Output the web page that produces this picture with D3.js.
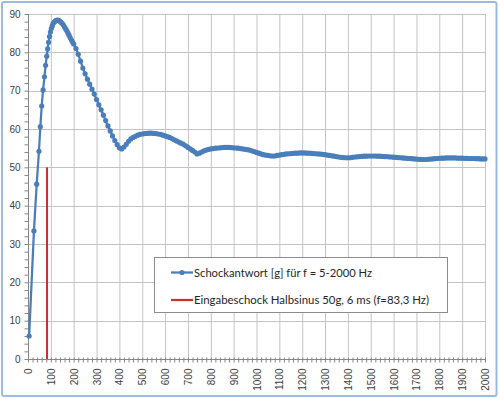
<!DOCTYPE html>
<html>
<head>
<meta charset="utf-8">
<script src="https://cdn.jsdelivr.net/npm/d3@7"></script>
<style>
  body { margin: 0; background: #fff; }
  svg { display: block; font-family: Lato, "Open Sans", sans-serif; }
</style>
</head>
<body>
<script>
// Schockantwort [g] over frequency [Hz]
const shockResponse = [
  [5, 6.0], [26, 33.4], [38, 45.6], [48, 54.2], [54, 60.6], [60, 66.0], [66, 70.2],
  [72, 73.6], [77, 76.6], [82, 79.0], [86, 80.9], [90, 82.6], [94, 84.1], [98, 85.3],
  [102, 86.2], [106, 86.9], [110, 87.5], [115, 87.9], [120, 88.2], [125, 88.35],
  [130, 88.4], [135, 88.3], [140, 88.1], [145, 87.8], [150, 87.5], [155, 87.1],
  [160, 86.6], [165, 86.1], [170, 85.6], [175, 85.0], [180, 84.4], [185, 83.8],
  [190, 83.2], [195, 82.7], [200, 82.2], [210, 81.0], [220, 79.5], [230, 77.7],
  [240, 75.9], [250, 74.4], [260, 73.0], [270, 71.7], [280, 70.4], [290, 69.1],
  [300, 67.7], [310, 66.3], [320, 65.0], [330, 63.6], [340, 62.2], [350, 60.8],
  [360, 59.5], [370, 58.2], [380, 57.0], [390, 55.9], [400, 55.1], [410, 54.8],
  [420, 55.3], [430, 56.0], [440, 56.8], [450, 57.4], [460, 57.8], [470, 58.1],
  [480, 58.4], [490, 58.6], [500, 58.7], [510, 58.8], [520, 58.85], [530, 58.9],
  [540, 58.9], [550, 58.85], [560, 58.8], [570, 58.7], [580, 58.6], [590, 58.4],
  [600, 58.2], [610, 58.0], [620, 57.8], [630, 57.5], [640, 57.2], [650, 56.9],
  [660, 56.6], [670, 56.3], [680, 56.0], [690, 55.6], [700, 55.2], [710, 54.8],
  [720, 54.4], [730, 54.0], [740, 53.5], [750, 53.7], [760, 54.0], [770, 54.3],
  [780, 54.5], [790, 54.7], [800, 54.8], [810, 54.9], [820, 55.0], [830, 55.05],
  [840, 55.1], [850, 55.15], [860, 55.2], [870, 55.2], [880, 55.2], [890, 55.15],
  [900, 55.1], [910, 55.05], [920, 55.0], [930, 54.9], [940, 54.8], [950, 54.7],
  [960, 54.6], [970, 54.5], [980, 54.3], [990, 54.1], [1000, 53.9], [1010, 53.7],
  [1020, 53.5], [1030, 53.3], [1040, 53.2], [1050, 53.1], [1060, 53.0], [1070, 52.95],
  [1080, 52.95], [1090, 53.1], [1100, 53.2], [1110, 53.3], [1120, 53.4], [1130, 53.5],
  [1140, 53.55], [1150, 53.6], [1160, 53.65], [1170, 53.7], [1180, 53.7], [1190, 53.75],
  [1200, 53.75], [1210, 53.75], [1220, 53.7], [1230, 53.7], [1240, 53.65], [1250, 53.6],
  [1260, 53.55], [1270, 53.5], [1280, 53.45], [1290, 53.4], [1300, 53.3], [1310, 53.2],
  [1320, 53.1], [1330, 53.0], [1340, 52.9], [1350, 52.8], [1360, 52.7], [1370, 52.6],
  [1380, 52.55], [1390, 52.5], [1400, 52.5], [1410, 52.5], [1420, 52.6], [1430, 52.7],
  [1440, 52.75], [1450, 52.8], [1460, 52.85], [1470, 52.9], [1480, 52.9], [1490, 52.95],
  [1500, 52.95], [1510, 52.95], [1520, 52.95], [1530, 52.9], [1540, 52.9], [1550, 52.85],
  [1560, 52.8], [1570, 52.8], [1580, 52.75], [1590, 52.7], [1600, 52.65], [1610, 52.6],
  [1620, 52.55], [1630, 52.5], [1640, 52.45], [1650, 52.4], [1660, 52.35], [1670, 52.3],
  [1680, 52.25], [1690, 52.2], [1700, 52.15], [1710, 52.1], [1720, 52.1], [1730, 52.05],
  [1740, 52.05], [1750, 52.1], [1760, 52.15], [1770, 52.2], [1780, 52.25], [1790, 52.3],
  [1800, 52.35], [1810, 52.4], [1820, 52.4], [1830, 52.45], [1840, 52.45], [1850, 52.45],
  [1860, 52.45], [1870, 52.45], [1880, 52.4], [1890, 52.4], [1900, 52.4], [1910, 52.35],
  [1920, 52.35], [1930, 52.3], [1940, 52.3], [1950, 52.3], [1960, 52.25], [1970, 52.25],
  [1980, 52.2], [1990, 52.2], [2000, 52.2]
];

// Eingabeschock: half sine 50 g at 83,3 Hz
const inputPulse = [[83.3, 0], [83.3, 50]];

const xTickValues = [0, 100, 200, 300, 400, 500, 600, 700, 800, 900, 1000,
  1100, 1200, 1300, 1400, 1500, 1600, 1700, 1800, 1900, 2000];
const yTickValues = [0, 10, 20, 30, 40, 50, 60, 70, 80, 90];

const seriesNames = [
  "Schockantwort [g] für f = 5-2000 Hz",
  "Eingabeschock Halbsinus 50g, 6 ms (f=83,3 Hz)"
];

const svgWidth = 500;
const svgHeight = 399;
const blue = "#4a7ebb";
const red = "#c9302c";

const svg = d3.select("body")
  .append("svg")
  .attr("width", svgWidth)
  .attr("height", svgHeight);

// outer chart border
svg.append("rect")
  .attr("x", 2)
  .attr("y", 2)
  .attr("width", 494.5)
  .attr("height", 394)
  .attr("rx", 2)
  .style("fill", "#fff")
  .style("stroke", "#9dbbe1")
  .style("stroke-width", 2);

const xScale = d3.scaleLinear().domain([0, 2000]).range([28, 485]);
const yScale = d3.scaleLinear().domain([0, 90]).range([359, 14]);

// gridlines
svg.append("g")
  .selectAll("line")
  .data(xTickValues.slice(1))
  .enter().append("line")
  .attr("x1", d => xScale(d) + 0.5).attr("x2", d => xScale(d) + 0.5)
  .attr("y1", yScale(90)).attr("y2", yScale(0))
  .style("stroke", "#c4c4c4");

svg.append("g")
  .selectAll("line")
  .data(yTickValues.slice(1))
  .enter().append("line")
  .attr("x1", xScale(0)).attr("x2", xScale(2000) + 0.5)
  .attr("y1", d => Math.round(yScale(d)) + 0.5).attr("y2", d => Math.round(yScale(d)) + 0.5)
  .style("stroke", "#c4c4c4");

// y axis with minor ticks
const yAxisG = svg.append("g")
  .attr("transform", `translate(${xScale(0) + 0.5},0)`);
yAxisG.call(d3.axisLeft(yScale).tickValues(d3.range(0, 91, 2)).tickSize(4).tickFormat(""));
yAxisG.select(".domain").remove();
yAxisG.selectAll("line").style("stroke", "#868686");
yAxisG.append("line")
  .attr("y1", yScale(90)).attr("y2", yScale(0))
  .style("stroke", "#868686");
yAxisG.selectAll(".ylab")
  .data(yTickValues)
  .enter().append("text")
  .attr("class", "ylab")
  .attr("x", -8)
  .attr("y", d => yScale(d))
  .attr("dy", "0.35em")
  .attr("text-anchor", "end")
  .style("font-size", "10px")
  .style("fill", "#404040")
  .text(d => d);

// x axis with minor ticks
const xAxisG = svg.append("g")
  .attr("transform", `translate(0,${yScale(0) + 0.5})`);
xAxisG.call(d3.axisBottom(xScale).tickValues(d3.range(0, 2001, 20)).tickSize(3).tickFormat(""));
xAxisG.select(".domain").remove();
xAxisG.selectAll("line").attr("y1", -2).style("stroke", "#868686");
xAxisG.append("line")
  .attr("x1", xScale(0)).attr("x2", xScale(2000))
  .style("stroke", "#868686");
xAxisG.selectAll(".xlab")
  .data(xTickValues)
  .enter().append("text")
  .attr("class", "xlab")
  .attr("transform", d => `translate(${xScale(d) + 0.5},9) rotate(-90)`)
  .attr("dy", "0.35em")
  .attr("text-anchor", "end")
  .style("font-size", "10px")
  .style("fill", "#404040")
  .text(d => d);

// input pulse line
const line = d3.line().x(d => xScale(d[0])).y(d => yScale(d[1]));

svg.append("path")
  .datum(inputPulse)
  .attr("d", line)
  .style("fill", "none")
  .style("stroke", red)
  .style("stroke-width", 2);

// shock response line + markers
svg.append("path")
  .datum(shockResponse)
  .attr("d", line)
  .style("fill", "none")
  .style("stroke", blue)
  .style("stroke-width", 2.25);

svg.append("g")
  .selectAll("circle")
  .data(shockResponse)
  .enter().append("circle")
  .attr("cx", d => xScale(d[0]))
  .attr("cy", d => yScale(d[1]))
  .attr("r", 2.6)
  .style("fill", blue);

// legend
const legend = svg.append("g").attr("transform", "translate(154,257)");
legend.append("rect")
  .attr("x", 0.5).attr("y", 0.5)
  .attr("width", 293).attr("height", 55)
  .style("fill", "#fff")
  .style("stroke", "#8c8c8c");

const legendRows = [
  { name: seriesNames[0], color: blue, marker: true, y: 15.5, len: 178 },
  { name: seriesNames[1], color: red, marker: false, y: 43, len: 235 }
];

legendRows.forEach(r => {
  legend.append("line")
    .attr("x1", 17).attr("x2", 39)
    .attr("y1", r.y).attr("y2", r.y)
    .style("stroke", r.color)
    .style("stroke-width", 2.25);
  if (r.marker) {
    legend.append("circle")
      .attr("cx", 28).attr("cy", r.y).attr("r", 2.6)
      .style("fill", r.color);
  }
  legend.append("text")
    .attr("x", 40)
    .attr("y", r.y)
    .attr("dy", "0.35em")
    .attr("textLength", r.len)
    .attr("lengthAdjust", "spacingAndGlyphs")
    .style("font-size", "11.5px")
    .style("fill", "#262626")
    .text(r.name);
});
</script>
</body>
</html>
